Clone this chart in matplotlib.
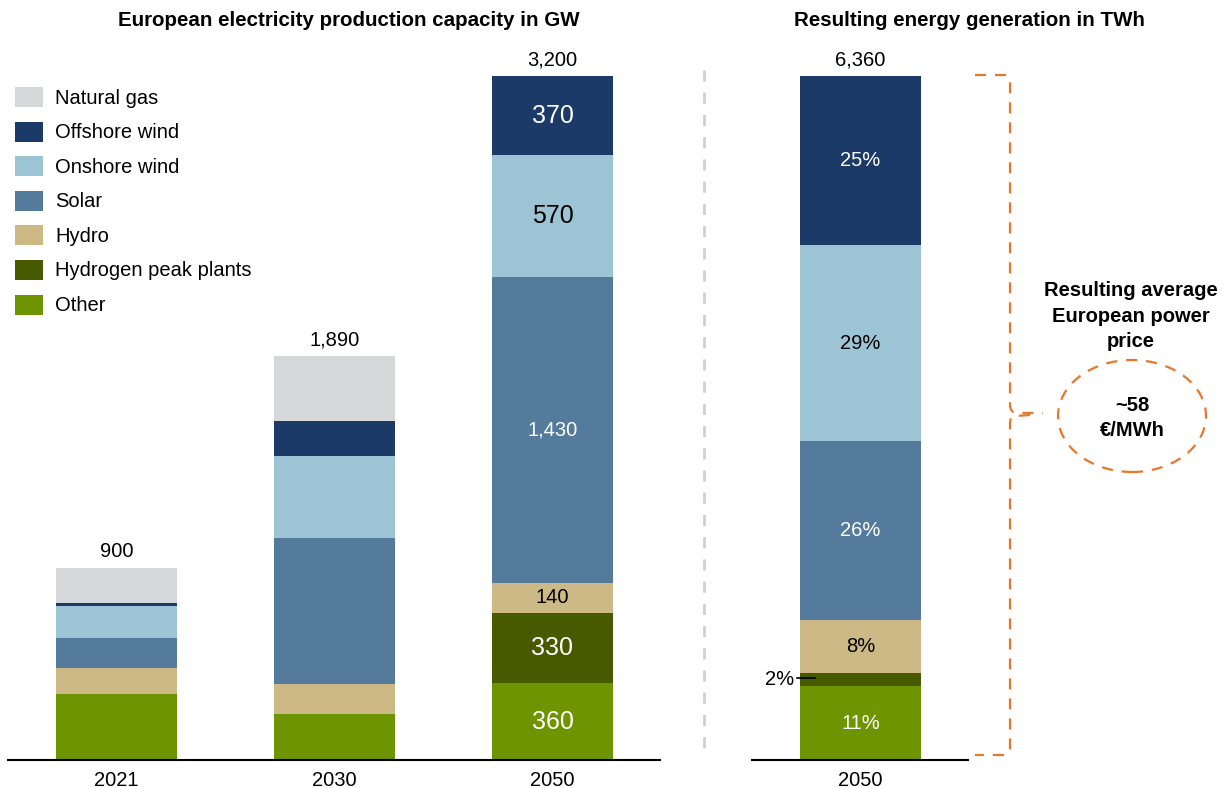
import matplotlib
matplotlib.use("Agg")
import matplotlib.pyplot as plt
from matplotlib.patches import Rectangle, Ellipse, PathPatch
from matplotlib.path import Path
from matplotlib.lines import Line2D

plt.rcParams['font.family'] = ['Liberation Sans', 'DejaVu Sans']

# ---------------- data ----------------
years = ['2021', '2030', '2050']
series_names = ['Other', 'Hydrogen peak plants', 'Hydro', 'Solar',
                'Onshore wind', 'Offshore wind', 'Natural gas']
other = [310, 215, 360]
hydrogen = [0, 0, 330]
hydro = [120, 140, 140]
solar = [140, 685, 1430]
onshore = [150, 380, 570]
offshore = [15, 165, 370]
natural_gas = [165, 305, 0]
capacity_totals = ['900', '1,890', '3,200']
labels_2050 = ['360', '330', '140', '1,430', '570', '370', '']

gen_year = ['2050']
gen_total = '6,360'
gen_shares = [10.8, 1.9, 7.7, 26.2, 28.7, 24.7]   # Other .. Offshore wind
gen_labels = ['11%', '2%', '8%', '26%', '29%', '25%']

price_title = 'Resulting average\nEuropean power\nprice'
price_value = '~58\n€/MWh'

colors = ['#6E9400', '#475A00', '#CCB985', '#547B9C',
          '#9DC4D4', '#1B3A68', '#D6D7D9']
label_colors_2050 = ['white', 'white', 'black', 'white', 'black', 'white', 'black']
FS = 14.5
label_sizes_2050 = [18, 18, FS, FS, 18, 18, FS]
gen_label_colors = ['white', 'black', 'black', 'white', 'black', 'white']

# ---------------- figure ----------------
W, H = 1223, 788
fig = plt.figure(figsize=(W / 100, H / 100), dpi=100)


def fx(x):
    return x / W


def fy(y):
    return 1 - y / H


base_px, top_px = 760, 76
unit = 218.0  # pixels per category step
bar_w = 121 / unit

# left axes
lx0, lx1 = 8, 660
axL = fig.add_axes([fx(lx0), fy(base_px), (lx1 - lx0) / W, (base_px - top_px) / H])
c0 = 116.5
axL.set_xlim((lx0 - c0) / unit, (lx1 - c0) / unit)
axL.set_ylim(0, 3200)

stack = [other, hydrogen, hydro, solar, onshore, offshore, natural_gas]
xs = list(range(len(years)))
bottoms = [0] * len(years)
for vals, col in zip(stack, colors):
    axL.bar(xs, vals, bar_w, bottom=bottoms, color=col, linewidth=0)
    bottoms = [b + v for b, v in zip(bottoms, vals)]

for x, tot, lab in zip(xs, bottoms, capacity_totals):
    axL.annotate(lab, (x, tot), xytext=(0, 4.5), textcoords='offset points',
                 ha='center', va='bottom', fontsize=FS)

# labels inside the 2050 bar
b = 0
for vals, lab, tc, fs in zip(stack, labels_2050, label_colors_2050, label_sizes_2050):
    v = vals[2]
    if lab:
        axL.text(2, b + v / 2, lab, ha='center', va='center', color=tc, fontsize=fs)
    b += v

# right axes
rx0, rx1 = 752, 968
axR = fig.add_axes([fx(rx0), fy(base_px), (rx1 - rx0) / W, (base_px - top_px) / H])
c1 = 860.5
axR.set_xlim((rx0 - c1) / unit, (rx1 - c1) / unit)
axR.set_ylim(0, 100)
b = 0
for i, (v, lab, col, tc) in enumerate(zip(gen_shares, gen_labels, colors, gen_label_colors)):
    axR.bar([0], [v], bar_w, bottom=[b], color=col, linewidth=0)
    if lab == '2%':
        axR.plot([-bar_w / 2 - 0.015, -bar_w / 2 + 0.07], [b + v / 2 + 0.3] * 2,
                 color='black', lw=1.2, clip_on=False)
        axR.text(-bar_w / 2 - 0.025, b + v / 2, lab, ha='right', va='center',
                 fontsize=FS, color='black')
    else:
        axR.text(0, b + v / 2, lab, ha='center', va='center', color=tc, fontsize=FS)
    b += v
axR.annotate(gen_total, (0, b), xytext=(0, 4.5), textcoords='offset points',
             ha='center', va='bottom', fontsize=FS)

for ax, labs in ((axL, years), (axR, gen_year)):
    for s in ('top', 'right', 'left'):
        ax.spines[s].set_visible(False)
    ax.spines['bottom'].set_linewidth(1.5)
    ax.spines['bottom'].set_color('black')
    ax.set_yticks([])
    ax.set_xticks(range(len(labs)))
    ax.set_xticklabels(labs, fontsize=FS)
    ax.tick_params(axis='x', length=0, pad=8)

# titles
fig.text(fx(349), fy(21), 'European electricity production capacity in GW',
         ha='center', va='center', fontsize=14.8, fontweight='bold')
fig.text(fx(969), fy(21), 'Resulting energy generation in TWh',
         ha='center', va='center', fontsize=14.8, fontweight='bold')

# legend (top to bottom)
legend_order = list(zip(series_names, colors))[::-1]
for i, (name, col) in enumerate(legend_order):
    yc = 97 + i * 34.6
    fig.patches.append(Rectangle((fx(15), fy(yc + 10)), 28 / W, 20 / H,
                                 transform=fig.transFigure, color=col, lw=0))
    fig.text(fx(55), fy(yc + 1), name, ha='left', va='center', fontsize=FS)

# separator
fig.add_artist(Line2D([fx(704), fx(704)], [fy(70), fy(757)], transform=fig.transFigure,
                      color='#D0D0D0', lw=2, linestyle=(0, (4, 4))))

# bracket
orange = '#E8772A'
verts = [(975, 75), (1005, 75), (1010, 75), (1010, 82),
         (1010, 405), (1010, 413), (1018, 413), (1043, 413)]
codes = [Path.MOVETO, Path.LINETO, Path.CURVE3, Path.CURVE3,
         Path.LINETO, Path.CURVE3, Path.CURVE3, Path.LINETO]
verts2 = [(1030, 415), (1015, 416), (1010, 416), (1010, 424),
          (1010, 748), (1010, 755), (1003, 755), (975, 755)]
codes2 = [Path.MOVETO, Path.LINETO, Path.CURVE3, Path.CURVE3,
          Path.LINETO, Path.CURVE3, Path.CURVE3, Path.LINETO]
for vv, cc in ((verts, codes), (verts2, codes2)):
    p = Path([(fx(x), fy(y)) for x, y in vv], cc)
    fig.add_artist(PathPatch(p, transform=fig.transFigure, fill=False,
                             edgecolor=orange, lw=1.6, linestyle=(0, (5, 4))))

fig.add_artist(Ellipse((fx(1132), fy(416)), 148 / W, 112 / H, transform=fig.transFigure,
                       fill=False, edgecolor=orange, lw=1.6, linestyle=(0, (5, 4))))
fig.text(fx(1131), fy(316), price_title, ha='center', va='center', fontsize=FS,
         fontweight='bold', linespacing=1.45)
fig.text(fx(1132), fy(418), price_value, ha='center', va='center', fontsize=FS,
         fontweight='bold', linespacing=1.45)

fig.savefig('out.png', dpi=100, facecolor='white')
